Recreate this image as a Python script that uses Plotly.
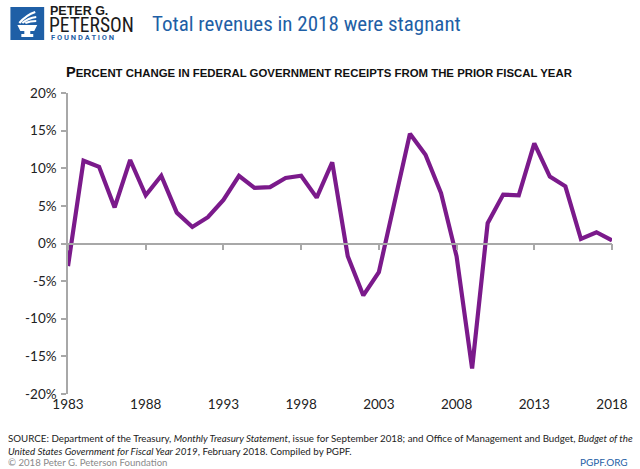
import plotly.graph_objects as go

years = list(range(1983, 2019))
pct_change = [-3.0, 11.0, 10.2, 4.8, 11.1, 6.4, 9.0, 4.1, 2.2, 3.5, 5.8, 9.0,
              7.4, 7.5, 8.7, 9.0, 6.1, 10.8, -1.7, -6.9, -3.8, 5.5, 14.6, 11.8,
              6.7, -1.7, -16.6, 2.7, 6.5, 6.4, 13.3, 8.9, 7.6, 0.6, 1.5, 0.4]
x_ticks = [1983, 1988, 1993, 1998, 2003, 2008, 2013, 2018]
y_ticks = [-20, -15, -10, -5, 0, 5, 10, 15, 20]
y_tick_labels = [f"{v}%" for v in y_ticks]

W, H = 640, 469
L, R, T, B = 68, 24, 93, 75
PW, PH = W - L - R, H - T - B

def px(x):
    return (x - L) / PW

def py(y):
    return (H - B - y) / PH

LINE = "#7b1a8b"
BLUE = "#1f5fa6"
GREY_AX = "#a8a8a8"
TXT = "#222222"

fig = go.Figure()
fig.add_trace(go.Scatter(x=years, y=pct_change, mode="lines",
                         line=dict(color=LINE, width=4.2), hoverinfo="skip",
                         showlegend=False))
# dummy trace for label axis
fig.add_trace(go.Scatter(x=years, y=pct_change, mode="lines", xaxis="x2",
                         line=dict(color="rgba(0,0,0,0)", width=0),
                         hoverinfo="skip", showlegend=False))

fig.update_layout(
    width=W, height=H,
    margin=dict(l=L, r=R, t=T, b=B),
    paper_bgcolor="white", plot_bgcolor="white",
    font=dict(family="Lato, Noto Sans, sans-serif", color=TXT),
    xaxis=dict(range=[1983, 2018], tickvals=x_ticks, showticklabels=False,
               showgrid=False, zeroline=False, showline=True,
               linecolor=GREY_AX, linewidth=1.5, ticks="outside",
               ticklen=6, tickcolor=GREY_AX, tickwidth=1.5,
               anchor="free", position=0.5),
    xaxis2=dict(range=[1983, 2018], tickvals=x_ticks,
                ticktext=[str(v) for v in x_ticks], overlaying="x",
                anchor="free", position=0, showgrid=False, zeroline=False,
                showline=False, ticks="", tickfont=dict(size=13.5, color=TXT)),
    yaxis=dict(range=[-20, 20], tickvals=y_ticks, ticktext=y_tick_labels,
               showgrid=False, zeroline=False, showline=True,
               linecolor=GREY_AX, linewidth=1.5, ticks="outside",
               ticklen=5, tickcolor=GREY_AX, tickwidth=1.5,
               tickfont=dict(size=13.5, color=TXT), ticklabelstandoff=2),
)

shapes = []
# logo square
shapes.append(dict(type="rect", xref="paper", yref="paper",
                   x0=px(10), x1=px(44), y0=py(40), y1=py(7),
                   fillcolor=BLUE, line=dict(width=0), layer="above"))

def path(points):
    s = "M " + " L ".join(f"{px(a):.5f},{py(b):.5f}" for a, b in points) + " Z"
    return s

# torch cup
shapes.append(dict(type="path", xref="paper", yref="paper",
                   path=path([(17, 25), (37, 25), (34, 31), (30, 31), (30, 34),
                              (33, 34), (33, 37), (21, 37), (21, 34), (24, 34),
                              (24, 31), (20, 31)]),
                   fillcolor="white", line=dict(width=0), layer="above"))
# flame swooshes
for (a, b, c) in [((19, 23), (26, 15), (35, 12)), ((22, 23), (28, 18), (36, 17)),
                  ((25, 23), (30, 21), (36, 21))]:
    shapes.append(dict(type="path", xref="paper", yref="paper",
                       path=f"M {px(a[0]):.5f},{py(a[1]):.5f} Q {px(b[0]):.5f},{py(b[1]):.5f} {px(c[0]):.5f},{py(c[1]):.5f}",
                       line=dict(color="white", width=2.2), layer="above"))
fig.update_layout(shapes=shapes)

def ann(x, y, text, size, color=TXT, xanchor="left", family=None, yanchor="middle", align="left"):
    d = dict(x=px(x), y=py(y), xref="paper", yref="paper", text=text,
             showarrow=False, xanchor=xanchor, yanchor=yanchor, align=align,
             font=dict(size=size, color=color), borderpad=0)
    if family:
        d["font"]["family"] = family
    fig.add_annotation(**d)

COND = "Liberation Sans Narrow, Roboto Condensed, Arial Narrow, Roboto, sans-serif"
ann(49, 19.5, "<b>PETER G.</b>", 12.5, color="#1b1b1b",
    family="Liberation Sans, Arial, sans-serif", yanchor="bottom")
ann(48, 13, "PETERSON", 19.5, color="#1b1b1b", family=COND, yanchor="top")
ann(50, 37.5, "<b>F O U N D A T I O N</b>", 7.5, color=BLUE, family="Roboto, sans-serif")
ann(152, 24, "Total revenues in 2018 were stagnant", 21, color=BLUE, family=COND)

ann(321, 72, "<b><span style='font-size:14.6px'>P</span>ERCENT CHANGE IN FEDERAL GOVERNMENT RECEIPTS FROM THE PRIOR FISCAL YEAR</b>",
    11.4, color="#111111", xanchor="center", family="Liberation Sans, Arial, sans-serif")

ann(7, 444, "SOURCE: Department of the Treasury, <i>Monthly Treasury Statement</i>, issue for September 2018; and Office of Management and Budget, <i>Budget of the</i><br><i>United States Government for Fiscal Year 2019</i>, February 2018. Compiled by PGPF.",
    9.75, color="#222222", family="Lato, sans-serif")
ann(7, 462, "© 2018 Peter G. Peterson Foundation", 9.6, color="#8a8a8a", family="Lato, sans-serif")
ann(633, 462, "PGPF.ORG", 10, color=BLUE, xanchor="right", family="Lato, sans-serif")

fig.write_html("out.html", config={"displayModeBar": False},
               post_script="document.body.style.margin='0';document.body.style.padding='0';")
